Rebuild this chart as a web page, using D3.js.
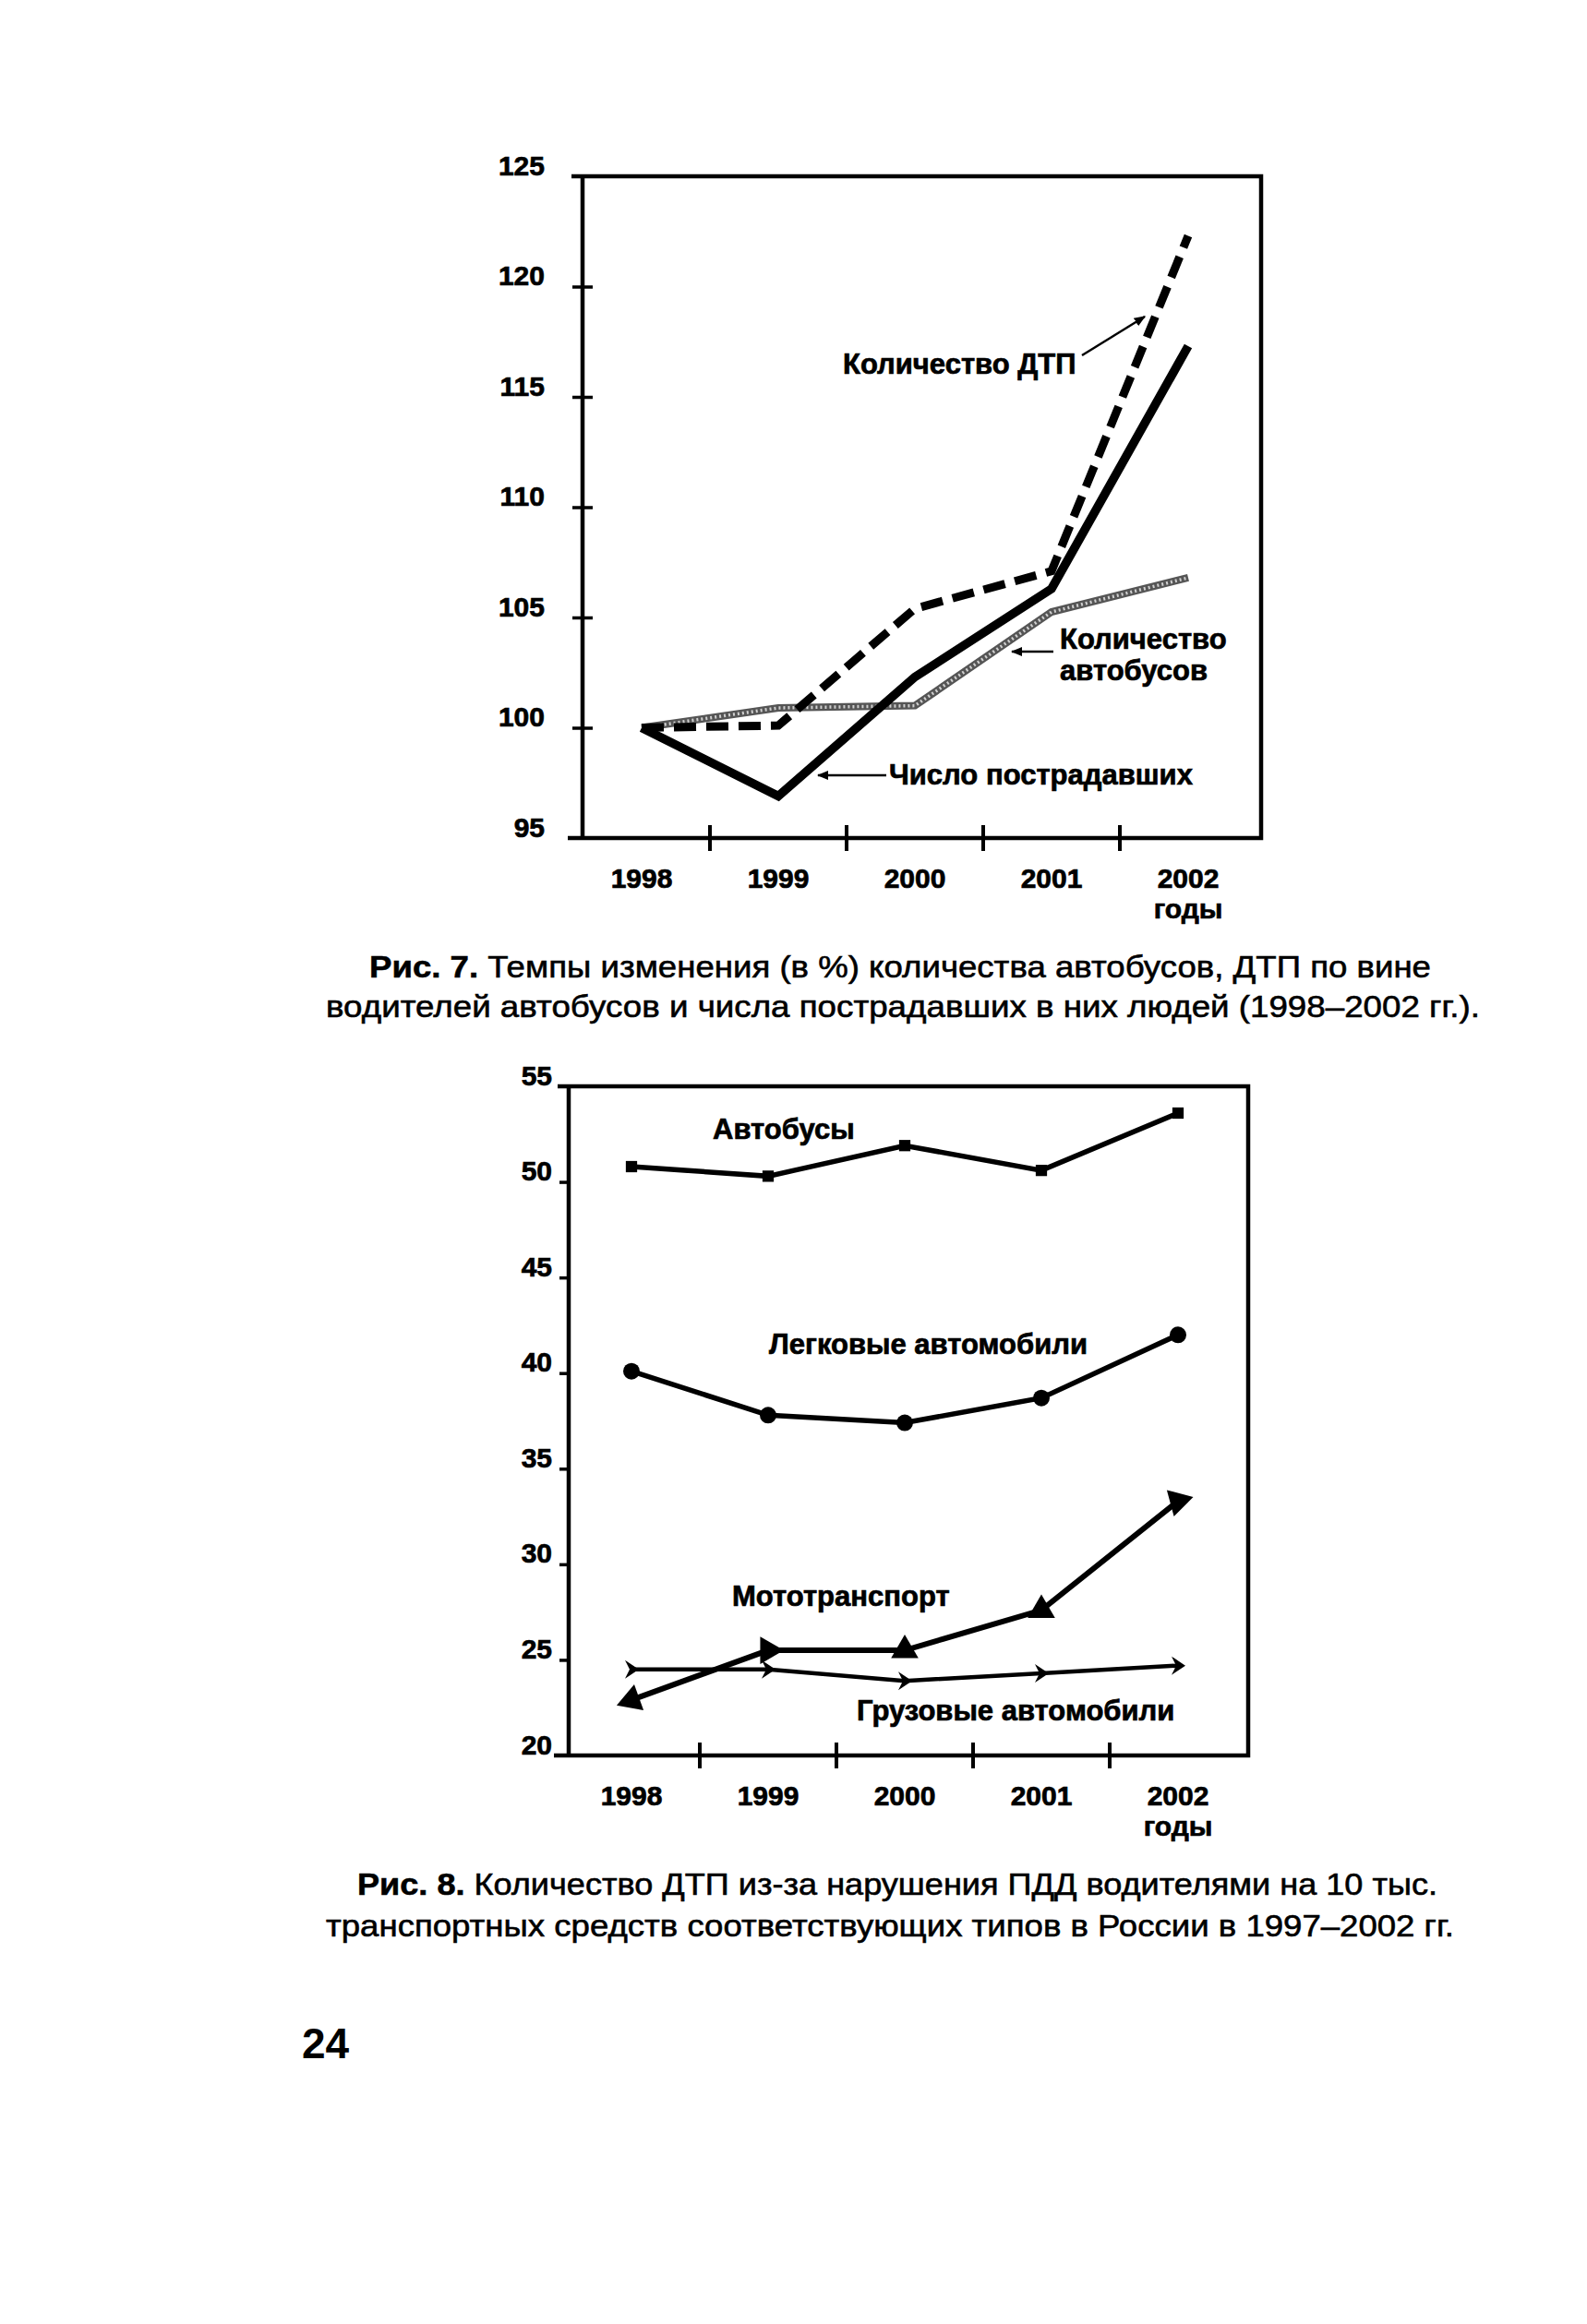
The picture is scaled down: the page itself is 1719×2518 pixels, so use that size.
<!DOCTYPE html>
<html lang="ru">
<head>
<meta charset="UTF-8">
<title>Рис. 7 и Рис. 8</title>
<script src="https://d3js.org/d3.v7.min.js"></script>
<style>
  body { margin: 0; background: #fff; }
  svg text { font-family: "Liberation Sans", Arial, sans-serif; fill: #000; }
  .lbl { font-weight: bold; font-size: 31px; stroke: #000; stroke-width: 0.7px; }
  .tick text { font-weight: bold; font-size: 30px; font-family: "Liberation Sans", Arial, sans-serif; stroke: #000; stroke-width: 0.7px; }
  .cap { font-size: 34px; stroke: #000; stroke-width: 0.6px; }
</style>
</head>
<body>
<svg id="page" width="1719" height="2518"></svg>
<script>
const years = ["1998", "1999", "2000", "2001", "2002"];

// Рис. 7 - темпы изменения, %
const fig7Ticks = [95, 100, 105, 110, 115, 120, 125];
const fig7Dtp = [100, 100.1, 105.4, 107.1, 122.3];
const fig7Victims = [100, 96.9, 102.3, 106.3, 117.3];
const fig7Buses = [100, 100.9, 101.0, 105.25, 106.8];

// Рис. 8 - ДТП на 10 тыс. ТС
const fig8Ticks = [20, 25, 30, 35, 40, 45, 50, 55];
const fig8Buses = [50.8, 50.3, 51.9, 50.6, 53.6];
const fig8Cars = [40.1, 37.8, 37.4, 38.7, 42.0];
const fig8Moto = [22.9, 25.5, 25.5, 27.6, 33.3];
const fig8Trucks = [24.5, 24.5, 23.9, 24.3, 24.7];

const svg = d3.select("#page");
svg.append("rect").attr("width", 1719).attr("height", 2518).attr("fill", "#fff");

svg.append("defs").append("marker")
    .attr("id", "arrow")
    .attr("viewBox", "0 0 10 10")
    .attr("refX", 9).attr("refY", 5)
    .attr("markerWidth", 5).attr("markerHeight", 5)
    .attr("markerUnits", "strokeWidth")
    .attr("orient", "auto")
  .append("path")
    .attr("d", "M0,1 L10,5 L0,9 Z")
    .attr("fill", "#000");

// frame + axes; returns scales
function drawFrame(o) {
    const g = svg.append("g");
    const x = d3.scaleBand().domain(years).range([o.bandStart, o.bandStart + 5 * 148]);
    const y = d3.scaleLinear().domain(d3.extent(o.ticks)).range([o.bottom, o.top]);

    // box
    g.append("path")
        .attr("d", `M${o.left - 12},${o.top} H${o.right} V${o.bottom} H${o.left - 16} M${o.left},${o.top} V${o.bottom}`)
        .attr("fill", "none").attr("stroke", "#000").attr("stroke-width", 4.5);

    // y axis
    const ya = g.append("g")
        .attr("transform", `translate(${o.left},0)`)
        .call(d3.axisLeft(y).tickValues(o.ticks).tickSize(o.tickOut).tickPadding(o.labelPad));
    ya.select(".domain").remove();
    ya.selectAll(".tick line")
        .attr("x1", o.tickIn)
        .attr("stroke-width", 3.5)
        .attr("display", d => (d === o.ticks[0] || d === o.ticks[o.ticks.length - 1]) ? "none" : null);
    ya.selectAll(".tick text").attr("dy", -2);

    // x axis labels at band centres
    const xa = g.append("g")
        .attr("transform", `translate(0,${o.bottom})`)
        .call(d3.axisBottom(x).tickSize(0).tickPadding(33));
    xa.select(".domain").remove();

    // x ticks on band borders
    g.selectAll(".xb").data(years.slice(0, 4)).join("line")
        .attr("x1", d => x(d) + x.bandwidth()).attr("x2", d => x(d) + x.bandwidth())
        .attr("y1", o.bottom - 14).attr("y2", o.bottom + 14)
        .attr("stroke", "#000").attr("stroke-width", 4);

    g.append("text").attr("class", "lbl")
        .attr("x", x("2002") + x.bandwidth() / 2).attr("y", o.bottom + 87)
        .attr("text-anchor", "middle").style("font-size", "30px")
        .text("годы");
    return { x, y };
}

// ---------- Рис. 7 ----------
const f7 = drawFrame({ left: 631, right: 1366, top: 191, bottom: 908, bandStart: 621,
                       ticks: fig7Ticks, tickOut: 11, tickIn: 11, labelPad: 30 });
const line7 = d3.line()
    .x((d, i) => f7.x(years[i]) + f7.x.bandwidth() / 2)
    .y(d => f7.y(d));

// количество автобусов - серая штрихованная
svg.append("path").attr("d", line7(fig7Buses))
    .attr("fill", "none").attr("stroke", "#555").attr("stroke-width", 8);
svg.append("path").attr("d", line7(fig7Buses))
    .attr("fill", "none").attr("stroke", "#cfcfcf").attr("stroke-width", 3.5)
    .attr("stroke-dasharray", "2,3");
// число пострадавших
svg.append("path").attr("d", line7(fig7Victims))
    .attr("fill", "none").attr("stroke", "#000").attr("stroke-width", 9.5)
    .attr("stroke-linejoin", "miter");
// количество ДТП
svg.append("path").attr("d", line7(fig7Dtp))
    .attr("fill", "none").attr("stroke", "#000").attr("stroke-width", 9)
    .attr("stroke-dasharray", "24,11");

svg.append("text").attr("class", "lbl").attr("x", 913).attr("y", 405).text("Количество ДТП");
svg.append("line").attr("x1", 1172).attr("y1", 385).attr("x2", 1240).attr("y2", 343)
    .attr("stroke", "#000").attr("stroke-width", 2.5).attr("marker-end", "url(#arrow)");

svg.append("text").attr("class", "lbl").attr("x", 1148).attr("y", 703).text("Количество");
svg.append("text").attr("class", "lbl").attr("x", 1148).attr("y", 737).text("автобусов");
svg.append("line").attr("x1", 1141).attr("y1", 706).attr("x2", 1096).attr("y2", 706)
    .attr("stroke", "#000").attr("stroke-width", 2.5).attr("marker-end", "url(#arrow)");

svg.append("text").attr("class", "lbl").attr("x", 963).attr("y", 850).text("Число пострадавших");
svg.append("line").attr("x1", 960).attr("y1", 840).attr("x2", 886).attr("y2", 840)
    .attr("stroke", "#000").attr("stroke-width", 2.5).attr("marker-end", "url(#arrow)");

svg.append("text").attr("class", "cap").attr("x", 400).attr("y", 1059)
    .attr("textLength", 1150).attr("lengthAdjust", "spacingAndGlyphs")
    .call(t => {
        t.append("tspan").attr("font-weight", "bold").text("Рис. 7.");
        t.append("tspan").text(" Темпы изменения (в %) количества автобусов, ДТП по вине");
    });
svg.append("text").attr("class", "cap").attr("x", 353).attr("y", 1102)
    .attr("textLength", 1250).attr("lengthAdjust", "spacingAndGlyphs")
    .text("водителей автобусов и числа пострадавших в них людей (1998–2002 гг.).");

// ---------- Рис. 8 ----------
const f8 = drawFrame({ left: 616, right: 1352, top: 1177, bottom: 1902, bandStart: 610,
                       ticks: fig8Ticks, tickOut: 10, tickIn: 0, labelPad: 8 });
const line8 = d3.line()
    .x((d, i) => f8.x(years[i]) + f8.x.bandwidth() / 2)
    .y(d => f8.y(d));
const cx8 = i => f8.x(years[i]) + f8.x.bandwidth() / 2;

function series(vals, width) {
    svg.append("path").attr("d", line8(vals))
        .attr("fill", "none").attr("stroke", "#000").attr("stroke-width", width);
}
series(fig8Buses, 5.5);
series(fig8Cars, 5.5);
series(fig8Trucks, 4.5);
series(fig8Moto, 6);

svg.selectAll(".m-bus").data(fig8Buses).join("path")
    .attr("d", d3.symbol().type(d3.symbolSquare).size(150))
    .attr("transform", (d, i) => `translate(${cx8(i)},${f8.y(d)})`);
svg.selectAll(".m-car").data(fig8Cars).join("circle")
    .attr("cx", (d, i) => cx8(i)).attr("cy", d => f8.y(d)).attr("r", 9);
const motoRot = [250, 90, 0, 240, 75];
svg.selectAll(".m-moto").data(fig8Moto).join("path")
    .attr("d", d3.symbol().type(d3.symbolTriangle).size(380))
    .attr("transform", (d, i) => `translate(${cx8(i)},${f8.y(d)}) rotate(${motoRot[i]})`);
svg.selectAll(".m-truck").data(fig8Trucks).join("path")
    .attr("d", "M-7,-10 L8,0 L-7,10 L-2,0 Z")
    .attr("transform", (d, i) => `translate(${cx8(i)},${f8.y(d)})`);

svg.append("text").attr("class", "lbl").attr("x", 772).attr("y", 1234).text("Автобусы");
svg.append("text").attr("class", "lbl").attr("x", 833).attr("y", 1467).text("Легковые автомобили");
svg.append("text").attr("class", "lbl").attr("x", 793).attr("y", 1740).text("Мототранспорт");
svg.append("text").attr("class", "lbl").attr("x", 928).attr("y", 1864).text("Грузовые автомобили");

svg.append("text").attr("class", "cap").attr("x", 387).attr("y", 2053)
    .attr("textLength", 1170).attr("lengthAdjust", "spacingAndGlyphs")
    .call(t => {
        t.append("tspan").attr("font-weight", "bold").text("Рис. 8.");
        t.append("tspan").text(" Количество ДТП из-за нарушения ПДД водителями на 10 тыс.");
    });
svg.append("text").attr("class", "cap").attr("x", 353).attr("y", 2098)
    .attr("textLength", 1222).attr("lengthAdjust", "spacingAndGlyphs")
    .text("транспортных средств соответствующих типов в России в 1997–2002 гг.");

svg.append("text").attr("x", 327).attr("y", 2230)
    .attr("font-weight", "bold").attr("font-size", 46).text("24");
</script>
</body>
</html>
